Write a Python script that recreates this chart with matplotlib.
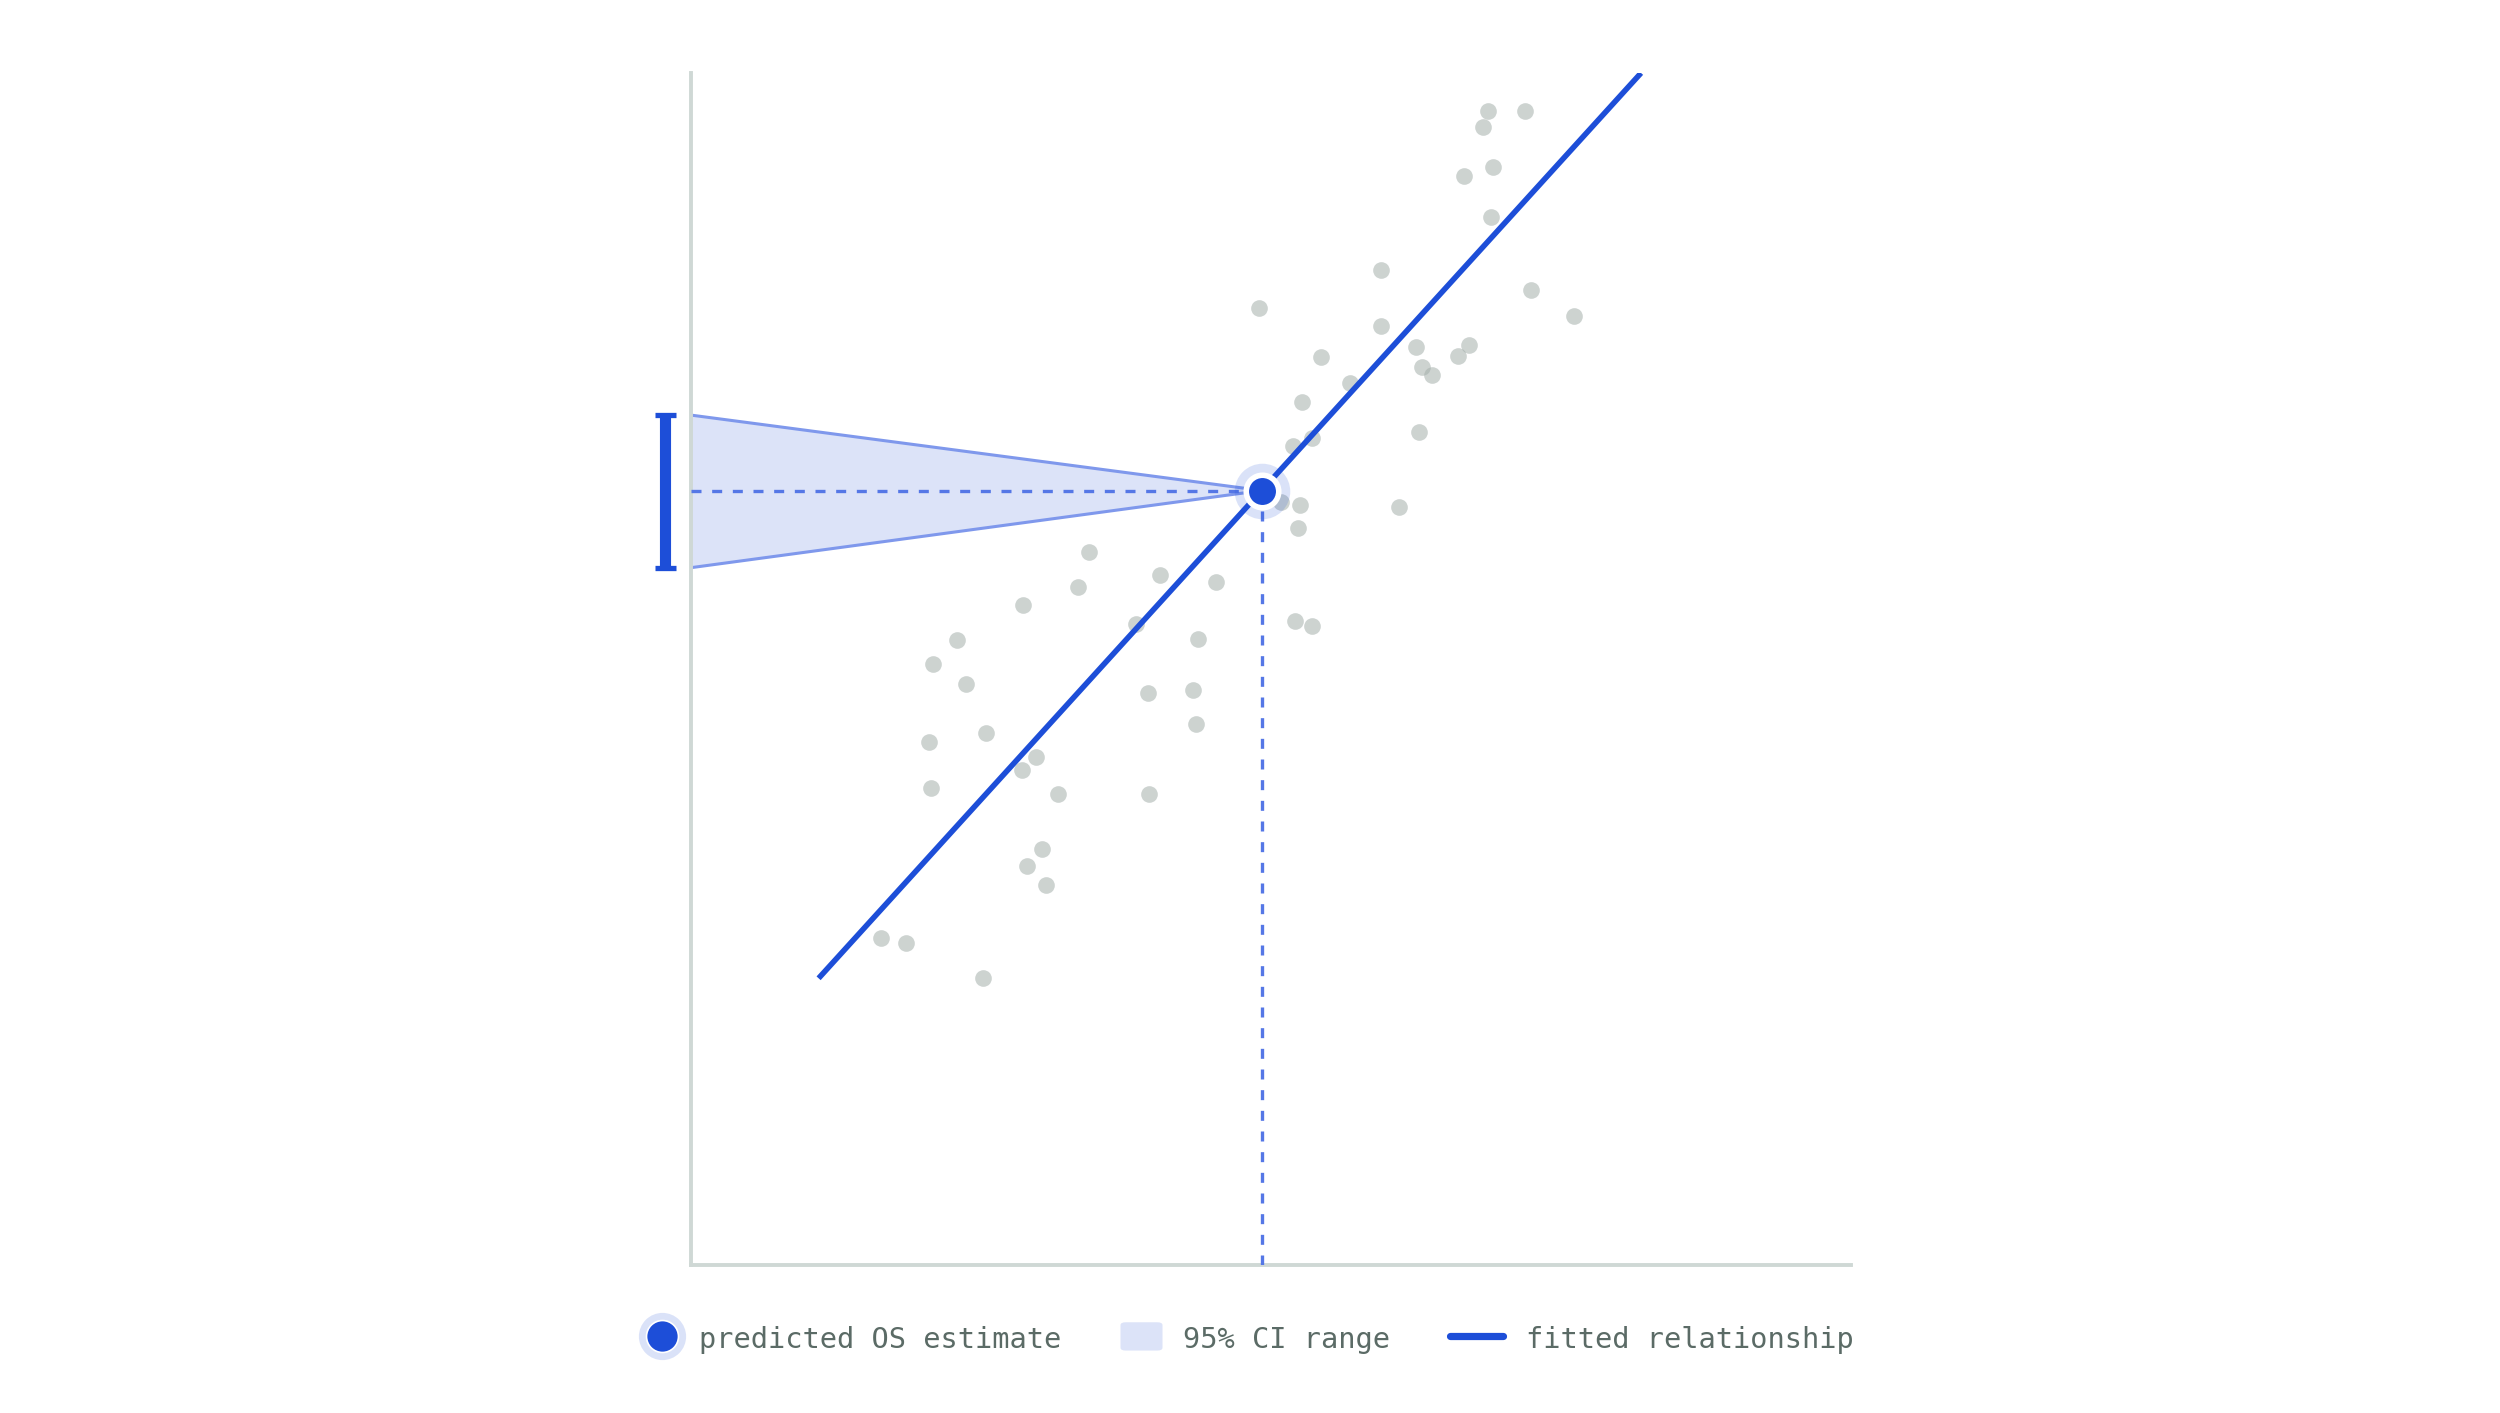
import numpy as np
import matplotlib
matplotlib.use("Agg")
import matplotlib.pyplot as plt
from matplotlib.lines import Line2D
from matplotlib.patches import FancyBboxPatch

# ---------------- data ----------------
scatter_x = [68.7, 71.9, 68.3, 69.1, 66.6, 69.0, 59.5, 49.0, 72.4, 76.1,
             59.5, 62.5, 67.1, 66.1, 54.3, 63.0, 63.9, 56.8, 52.7, 53.5,
             62.8, 51.9, 50.9, 52.5, 61.0, 52.3, 34.3, 40.4, 45.3, 33.4,
             28.6, 52.1, 53.5, 38.4, 22.9, 43.7, 20.9, 23.7, 39.4, 43.3,
             43.5, 25.4, 20.5, 29.7, 28.5, 20.7, 31.6, 39.5, 30.3, 29.0,
             30.6, 16.4, 18.5, 25.2]
scatter_y = [96.8, 96.8, 95.5, 92.1, 91.4, 87.9, 83.5, 80.3, 81.8, 79.6,
             78.8, 77.0, 77.2, 76.3, 76.2, 75.3, 74.7, 74.0, 72.4, 69.4,
             69.9, 68.7, 64.0, 63.8, 63.6, 61.8, 59.8, 57.9, 57.3, 56.9,
             55.4, 54.0, 53.6, 53.8, 52.4, 52.5, 50.4, 48.7, 48.0, 48.2,
             45.4, 44.6, 43.9, 42.6, 41.5, 40.0, 39.5, 39.5, 34.9, 33.5,
             31.9, 27.4, 27.0, 24.1]

fit_slope = 1.0712
fit_intercept = 12.27
fit_x_range = [11.0, 81.9]

pred_x = 49.2
pred_ci = [58.5, 71.3]   # lower, upper

legend_labels = ["predicted OS estimate", "95% CI range", "fitted relationship"]

# ---------------- style ----------------
BLUE = "#1d4ed8"
DASH = "#5577e6"
CI_FILL = "#dce3f8"
CI_EDGE = "#7f98ec"
SPINE = "#cfd8d5"
TEXT = "#5b6b66"
DOT = "#a4afab"
MONO = ["DejaVu Sans Mono"]

fig = plt.figure(figsize=(12.5, 7.065), dpi=200)
ax = fig.add_axes([0.2764, 0.10474, 0.464, 0.8436])
ax.set_xlim(0, 100)
ax.set_ylim(0, 100)
ax.set_xticks([])
ax.set_yticks([])
for s in ["top", "right"]:
    ax.spines[s].set_visible(False)
for s in ["left", "bottom"]:
    ax.spines[s].set_color(SPINE)
    ax.spines[s].set_linewidth(1.4)

# scatter
ax.scatter(scatter_x, scatter_y, s=6.0 ** 2, color=DOT, alpha=0.55,
           linewidths=0, zorder=2)

# fitted line
fx = np.array(fit_x_range)
fy = fit_intercept + fit_slope * fx
pred_y = fit_intercept + fit_slope * pred_x

# CI fan
lo, hi = pred_ci
ax.fill([0, pred_x, 0], [hi, pred_y, lo], color=CI_FILL, lw=0, zorder=1,
        clip_on=False)
ax.plot([0, pred_x], [hi, pred_y], color=CI_EDGE, lw=1.1, zorder=1.5,
        solid_capstyle="butt")
ax.plot([0, pred_x], [lo, pred_y], color=CI_EDGE, lw=1.1, zorder=1.5,
        solid_capstyle="butt")

# dashed guides
ax.plot([0, pred_x], [pred_y, pred_y], color=DASH, lw=1.2,
        dashes=(3, 3.2), zorder=3)
ax.plot([pred_x, pred_x], [0, pred_y], color=DASH, lw=1.2,
        dashes=(3, 3.2), zorder=3)

# halo for predicted point
ax.plot([pred_x], [pred_y], "o", ms=20, color=BLUE, alpha=0.16, mew=0,
        zorder=4)
ax.plot(fx, fy, color=BLUE, lw=2.0, solid_capstyle="butt", zorder=5)
ax.plot([pred_x], [pred_y], "o", ms=11.7, color=BLUE, mec="white", mew=2.0,
        zorder=6)

# CI bracket at the y axis
bx = -2.2
ax.plot([bx, bx], [lo, hi], color=BLUE, lw=4.0, solid_capstyle="butt",
        clip_on=False, zorder=6)
for yv in (lo, hi):
    ax.plot([bx - 0.9, bx + 0.9], [yv, yv], color=BLUE, lw=1.9,
            solid_capstyle="butt", clip_on=False, zorder=6)

# ---------------- legend (figure coords) ----------------
ly = 0.0545
ty = 0.0515
fig.add_artist(Line2D([0.2648], [ly], marker="o", ms=17, color=BLUE,
                      alpha=0.16, mew=0, transform=fig.transFigure))
fig.add_artist(Line2D([0.2648], [ly], marker="o", ms=11.5, color=BLUE,
                      mec="white", mew=0.6, transform=fig.transFigure))
fig.text(0.2796, ty, legend_labels[0], family=MONO, fontsize=10.3,
         color=TEXT, va="center", ha="left")

fig.add_artist(FancyBboxPatch((0.4482, 0.0442), 0.0168, 0.0200,
                              boxstyle="round,pad=0,rounding_size=0.002",
                              facecolor=CI_FILL, edgecolor="none",
                              transform=fig.transFigure))
fig.text(0.4732, ty, legend_labels[1], family=MONO, fontsize=10.3,
         color=TEXT, va="center", ha="left")

fig.add_artist(Line2D([0.5800, 0.6012], [ly, ly], color=BLUE, lw=2.6,
                      solid_capstyle="round", transform=fig.transFigure))
fig.text(0.6104, ty, legend_labels[2], family=MONO, fontsize=10.3,
         color=TEXT, va="center", ha="left")

fig.savefig("out.png", dpi=200, facecolor="white")
